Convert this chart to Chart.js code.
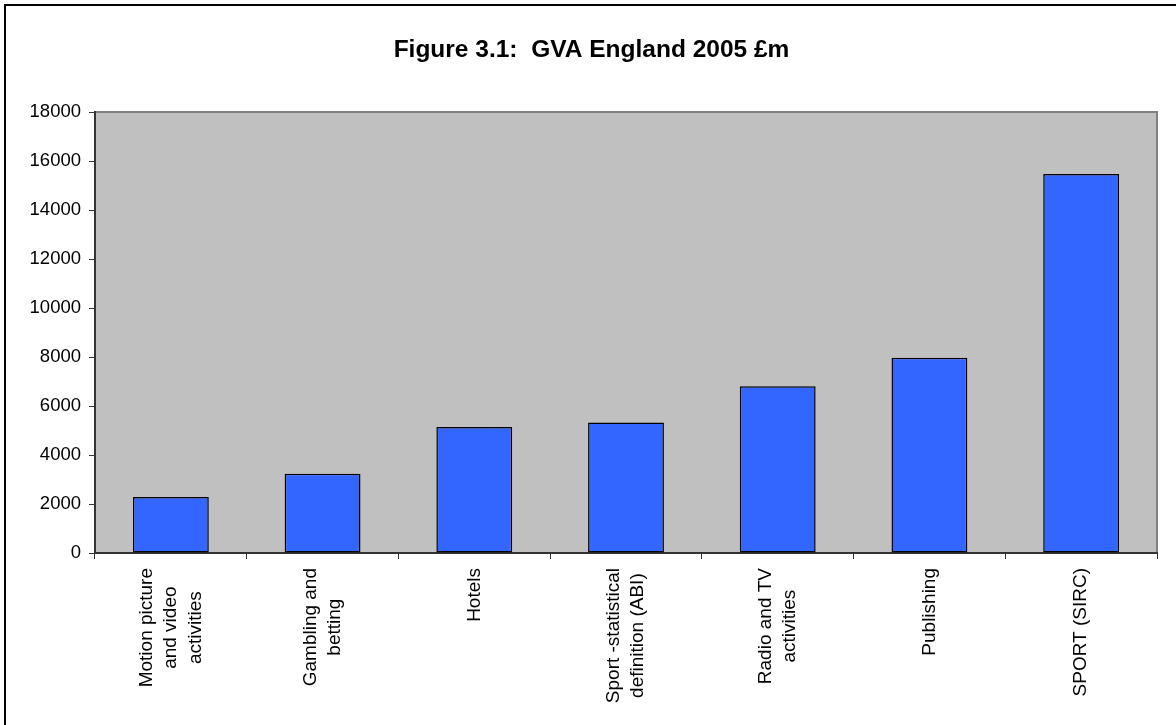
<!DOCTYPE html>
<html>
<head>
<meta charset="utf-8">
<script src="https://cdn.jsdelivr.net/npm/chart.js@4"></script>
<style>
  html, body { margin: 0; padding: 0; background: #fff; }
  #wrap { width: 1176px; height: 725px; position: relative; }
</style>
</head>
<body>
<div id="wrap"><canvas id="gva"></canvas></div>
<script>
const categories = [
    ['Motion picture', 'and video', 'activities'],
    ['Gambling and', 'betting'],
    ['Hotels'],
    ['Sport -statistical', 'definition (ABI)'],
    ['Radio and TV', 'activities'],
    ['Publishing'],
    ['SPORT (SIRC)'],
];
const gva_values = [2290, 3230, 5140, 5330, 6810, 7970, 15470];
const y_ticks = [0, 2000, 4000, 6000, 8000, 10000, 12000, 14000, 16000, 18000];

const FONT = '"Liberation Sans", Arial, sans-serif';

// grey plot area + outer frame
const plot_bg = {
    id: 'plot_bg',
    beforeDraw(chart) {
        const { ctx, chartArea: a } = chart;
        ctx.save();
        ctx.strokeStyle = '#000';
        ctx.lineWidth = 2;
        ctx.strokeRect(5, 5, chart.width + 20, chart.height + 20);
        ctx.fillStyle = '#C0C0C0';
        ctx.fillRect(a.left, a.top, a.right - a.left, a.bottom - a.top);
        ctx.strokeStyle = '#808080';
        ctx.lineWidth = 2;
        ctx.beginPath();
        ctx.moveTo(a.left, a.top);
        ctx.lineTo(a.right, a.top);
        ctx.lineTo(a.right, a.bottom);
        ctx.stroke();
        ctx.restore();
    },
};

// rotated category labels, lines centred on each other like the original
const cat_labels = {
    id: 'cat_labels',
    afterDraw(chart) {
        const { ctx } = chart;
        const xs = chart.scales.x;
        const lineH = 24.5;
        ctx.save();
        ctx.font = '19px ' + FONT;
        ctx.fillStyle = '#000';
        ctx.textAlign = 'center';
        ctx.textBaseline = 'middle';
        chart.data.labels.forEach((lines, i) => {
            const x = xs.getPixelForTick(i);
            const maxW = Math.max(...lines.map(l => ctx.measureText(l).width));
            ctx.save();
            ctx.translate(x, xs.top);
            ctx.rotate(-Math.PI / 2);
            lines.forEach((l, j) => {
                ctx.fillText(l, -(15 + maxW / 2), (j - (lines.length - 1) / 2) * lineH);
            });
            ctx.restore();
        });
        ctx.restore();
    },
};

new Chart(document.getElementById('gva'), {
    type: 'bar',
    data: {
        labels: categories,
        datasets: [{
            data: gva_values,
            backgroundColor: '#3366FF',
            borderColor: '#000',
            borderWidth: 1.5,
            borderSkipped: false,
            barPercentage: 0.5,
            categoryPercentage: 1,
        }],
    },
    options: {
        responsive: true,
        maintainAspectRatio: false,
        animation: false,
        layout: { padding: { left: 26, right: 19, top: 0, bottom: 0 } },
        plugins: {
            legend: { display: false },
            tooltip: { enabled: false },
            title: {
                display: true,
                text: 'Figure 3.1:  GVA England 2005 £m',
                color: '#000',
                font: { family: FONT, size: 24.5, weight: 'bold', lineHeight: 1.2 },
                padding: { top: 36, bottom: 46.6 },
            },
        },
        scales: {
            x: {
                offset: true,
                grid: { offset: true, drawOnChartArea: false, tickLength: 6, color: '#333', lineWidth: 1 },
                border: { color: '#333', width: 2 },
                ticks: { display: false },
                afterFit(s) { s.height = 172; },
            },
            y: {
                min: 0,
                max: 18000,
                afterBuildTicks(s) { s.ticks = y_ticks.map(v => ({ value: v })); },
                grid: { drawOnChartArea: false, tickLength: 6, color: '#333', lineWidth: 1 },
                border: { color: '#333', width: 2 },
                ticks: {
                    color: '#000',
                    padding: 8,
                    font: { family: FONT, size: 18.5 },
                    callback: v => String(v),
                },
                afterFit(s) { s.width = 69; },
            },
        },
    },
    plugins: [plot_bg, cat_labels],
});
</script>
</body>
</html>
